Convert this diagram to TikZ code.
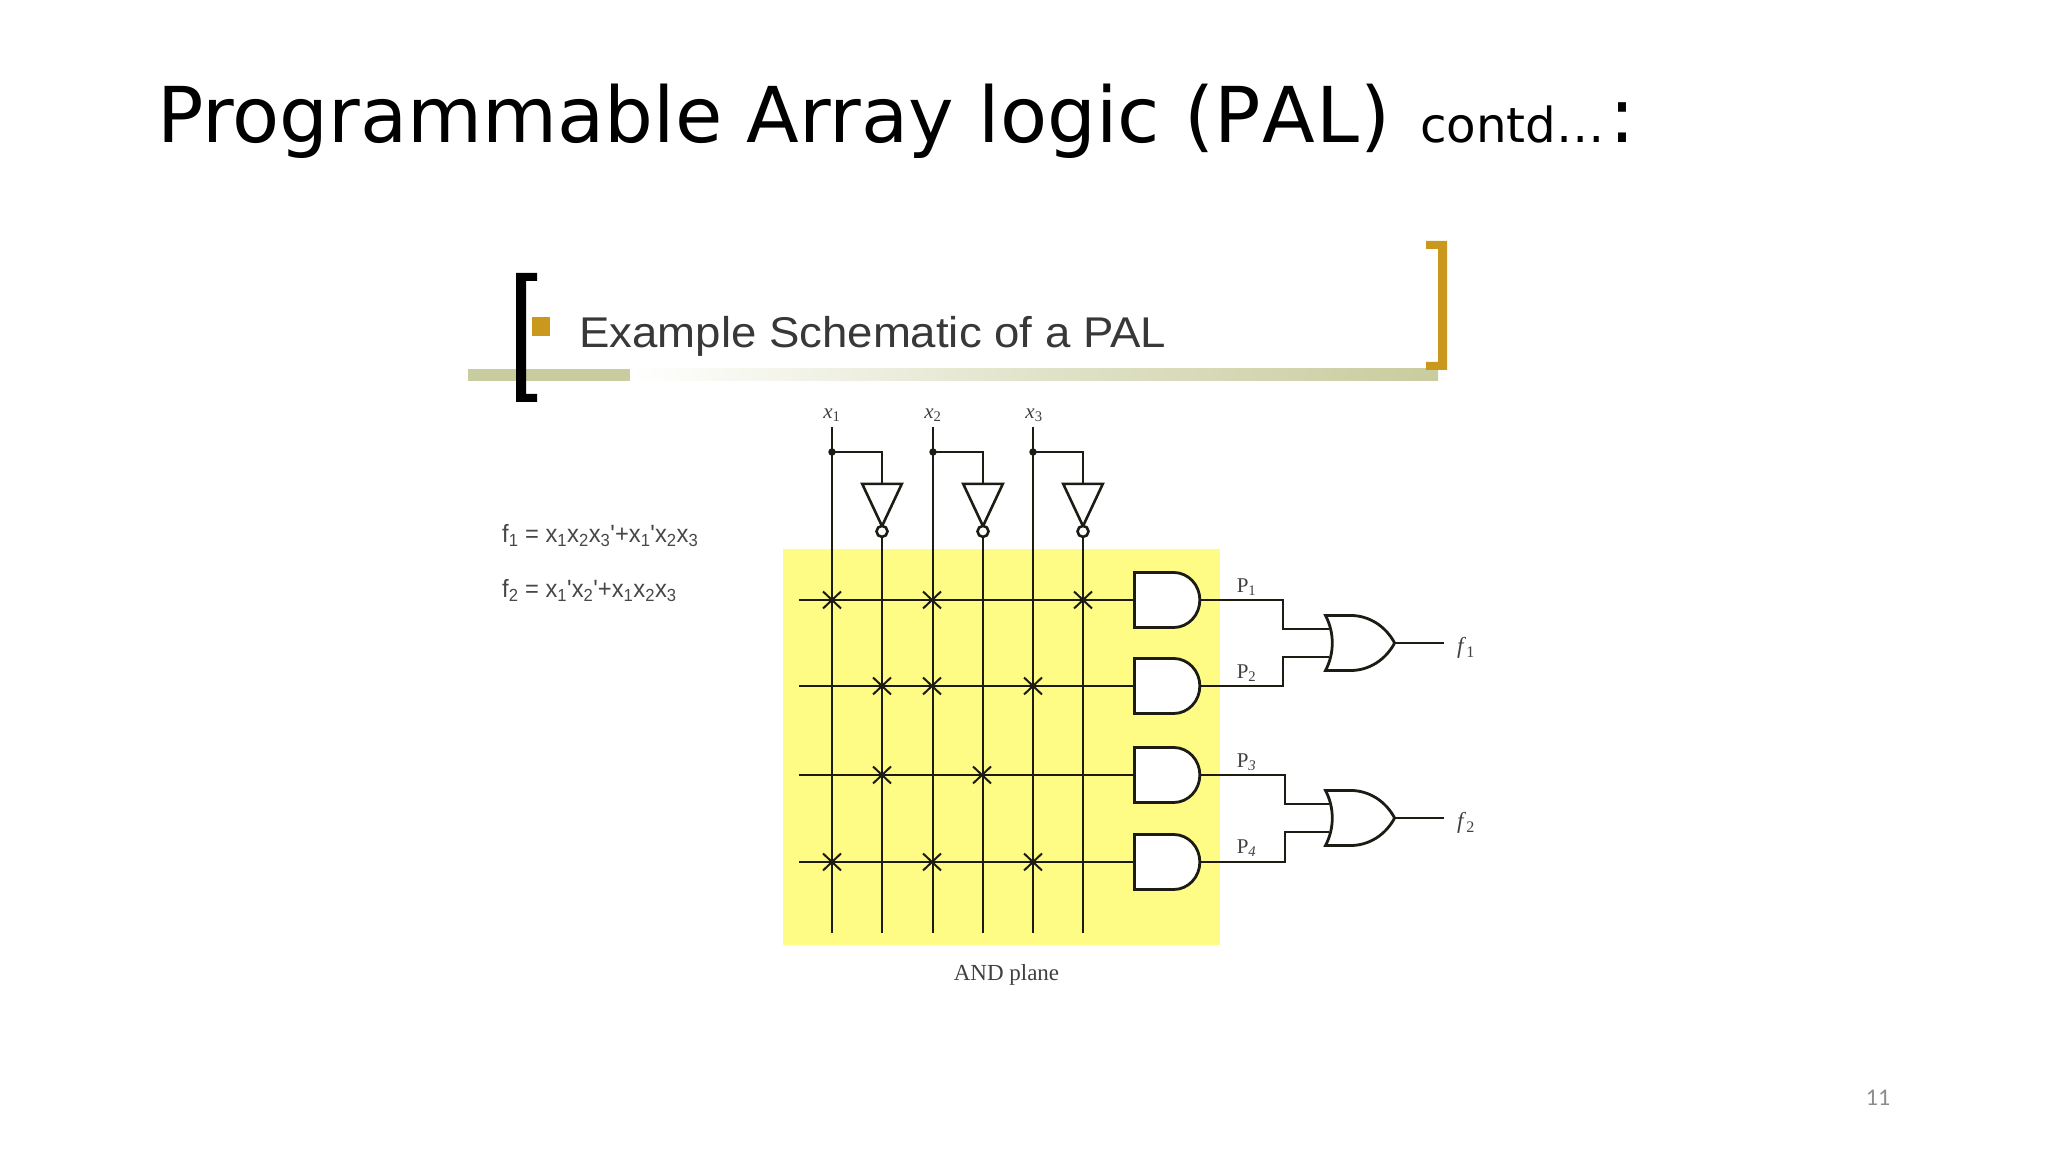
\documentclass[tikz,border=0pt]{standalone}
\usepackage{fontspec}
\usetikzlibrary{shapes.gates.logic.US,shapes.misc}
\setmainfont{Liberation Serif}
\newfontfamily\titlefont{DejaVu Sans}
\newfontfamily\arialfont[FakeStretch=1.06]{Liberation Sans}
\newfontfamily\eqfont[FakeStretch=.95]{Liberation Sans}
\newfontfamily\pagefont{Carlito}
\definecolor{planeyellow}{HTML}{FEFC85}
\definecolor{barolive}{HTML}{C9CC9E}
\definecolor{bulletgold}{HTML}{C9981C}
\definecolor{wirecolor}{HTML}{1C1C14}
\begin{document}
\begin{tikzpicture}[>=latex,line join=miter,
  wire/.style={wirecolor,line width=2bp},
  andgate/.style={and gate US,draw=wirecolor,fill=white,line width=2.8bp,logic gate inputs=nn,inner sep=0pt,minimum height=55bp,minimum width=67bp,xscale=.95,transform shape},
  orgate/.style={or gate US,draw=wirecolor,fill=white,line width=2.8bp,logic gate inputs=nnn,logic gate input sep=13bp,inner sep=0pt,minimum height=55bp,minimum width=70bp,xscale=.92,transform shape},
  notgate/.style={not gate US,draw=wirecolor,fill=white,line width=2.6bp,rotate=-90,inner sep=0pt,logic gate inverted radius=5.5bp,minimum height=34bp,minimum width=31bp},
  xmark/.style={cross out,draw=wirecolor,line width=2bp,inner sep=0pt,minimum width=16bp,minimum height=15bp},
  joint/.style={circle,fill=wirecolor,inner sep=0pt,minimum size=7.5bp},
  serifsmall/.style={text=black!75,font=\fontsize{21bp}{24bp}\selectfont,inner sep=0pt},
  formula/.style={text=black!72,font=\eqfont\fontsize{25bp}{28bp}\selectfont,inner sep=0pt,anchor=base west},
]
\useasboundingbox (0bp,0bp) rectangle (2048bp,1152bp);
%% slide heading
\node (title) at (157.5bp,1009.0bp) [anchor=base west,inner sep=0pt,font=\titlefont\fontsize{77bp}{90bp}\selectfont] {Programmable Array logic (P\kern1.4bp A\kern1.4bp L\kern1.4bp)\kern5bp{} {\fontsize{48.3bp}{60bp}\selectfont contd…}\kern5bp:};
\node (pagenum) at (1878.0bp,54.0bp) [inner sep=0pt,text=black!45,font=\pagefont\fontsize{24bp}{28bp}\selectfont] {11};
%% pasted picture header
\fill [barolive] (468.0bp,771.0bp) rectangle (630.0bp,783.0bp);
\shade [left color=white,right color=barolive,middle color=barolive!55] (630.0bp,771.0bp) rectangle (1438.0bp,783.0bp);
\fill [black] (516.0bp,879.0bp) -- (537.0bp,879.0bp) -- (537.0bp,871.0bp) -- (526.0bp,871.0bp) -- (526.0bp,758.0bp) -- (537.0bp,758.0bp) -- (537.0bp,750.0bp) -- (516.0bp,750.0bp) -- cycle;
\fill [bulletgold] (1447.0bp,911.0bp) -- (1426.0bp,911.0bp) -- (1426.0bp,903.0bp) -- (1438.0bp,903.0bp) -- (1438.0bp,790.0bp) -- (1426.0bp,790.0bp) -- (1426.0bp,782.0bp) -- (1447.0bp,782.0bp) -- cycle;
\fill [bulletgold] (532.0bp,816.0bp) rectangle (550.0bp,835.0bp);
\node (heading) at (579.0bp,804.0bp) [anchor=base west,inner sep=0pt,text=black!78,font=\arialfont\fontsize{43bp}{50bp}\selectfont] {Example Schematic of a PAL};
\node (eq_1) at (502.0bp,609.0bp) [formula] {f\textsubscript{1} = x\textsubscript{1}x\textsubscript{2}x\textsubscript{3}'+x\textsubscript{1}'x\textsubscript{2}x\textsubscript{3}};
\node (eq_2) at (502.0bp,554.0bp) [formula] {f\textsubscript{2} = x\textsubscript{1}'x\textsubscript{2}'+x\textsubscript{1}x\textsubscript{2}x\textsubscript{3}};
%% array
\node (plane) at (1001.5bp,405.0bp) [fill=planeyellow,inner sep=0pt,minimum width=437bp,minimum height=396bp] {};
\node (planelabel) at (1006.5bp,177.0bp) [serifsmall,font=\fontsize{23bp}{26bp}\selectfont] {AND plane};
\node (x_1) at (832.0bp,737.0bp) [serifsmall] {\textit{x}\textsubscript{1}};
\node (x_2) at (933.0bp,737.0bp) [serifsmall] {\textit{x}\textsubscript{2}};
\node (x_3) at (1034.0bp,737.0bp) [serifsmall] {\textit{x}\textsubscript{3}};
\coordinate (top_1) at (832.0bp,725.0bp);
\coordinate (top_2) at (933.0bp,725.0bp);
\coordinate (top_3) at (1033.0bp,725.0bp);
\node (dot_1) at (832.0bp,700.0bp) [joint] {};
\node (dot_2) at (933.0bp,700.0bp) [joint] {};
\node (dot_3) at (1033.0bp,700.0bp) [joint] {};
\coordinate (low_1) at (832.0bp,219.0bp);
\coordinate (low_2) at (882.0bp,219.0bp);
\coordinate (low_3) at (933.0bp,219.0bp);
\coordinate (low_4) at (983.0bp,219.0bp);
\coordinate (low_5) at (1033.0bp,219.0bp);
\coordinate (low_6) at (1083.0bp,219.0bp);
\node (not_1) at (882.0bp,654.0bp) [notgate] {};
\node (not_2) at (983.0bp,654.0bp) [notgate] {};
\node (not_3) at (1083.0bp,654.0bp) [notgate] {};
\coordinate (row_1) at (799.0bp,552.0bp);
\coordinate (row_2) at (799.0bp,466.0bp);
\coordinate (row_3) at (799.0bp,377.0bp);
\coordinate (row_4) at (799.0bp,290.0bp);
\node (and_1) at (1165.0bp,552.0bp) [andgate] {};
\node (and_2) at (1165.0bp,466.0bp) [andgate] {};
\node (and_3) at (1165.0bp,377.0bp) [andgate] {};
\node (and_4) at (1165.0bp,290.0bp) [andgate] {};
\node (or_1) at (1355.0bp,509.0bp) [orgate] {};
\node (or_2) at (1355.0bp,334.0bp) [orgate] {};
\coordinate (knee_1) at (1283.0bp,535.0bp);
\coordinate (knee_2) at (1283.0bp,480.0bp);
\coordinate (knee_3) at (1285.0bp,360.0bp);
\coordinate (knee_4) at (1285.0bp,305.0bp);
\coordinate (out_1) at (1444.0bp,509.0bp);
\coordinate (out_2) at (1444.0bp,334.0bp);
%% wires
\draw [wire] (top_1) -- (low_1);
\draw [wire] (top_2) -- (low_3);
\draw [wire] (top_3) -- (low_5);
\draw [wire] (dot_1.center) -| (not_1.input);
\draw [wire] (dot_2.center) -| (not_2.input);
\draw [wire] (dot_3.center) -| (not_3.input);
\draw [wire] (not_1.output) -- (low_2);
\draw [wire] (not_2.output) -- (low_4);
\draw [wire] (not_3.output) -- (low_6);
\draw [wire] (row_1) -- (and_1.west);
\draw [wire] (row_2) -- (and_2.west);
\draw [wire] (row_3) -- (and_3.west);
\draw [wire] (row_4) -- (and_4.west);
\draw [wire] (and_1.output) -| (knee_1) |- (or_1.input 1);
\draw [wire] (and_2.output) -| (knee_2) |- (or_1.input 3);
\draw [wire] (and_3.output) -| (knee_3) |- (or_2.input 1);
\draw [wire] (and_4.output) -| (knee_4) |- (or_2.input 3);
\draw [wire] (or_1.output) -- (out_1);
\draw [wire] (or_2.output) -- (out_2);
%% fuses
\node (fuse_11) at (832.0bp,552.0bp) [xmark] {};
\node (fuse_13) at (932.0bp,552.0bp) [xmark] {};
\node (fuse_16) at (1083.0bp,552.0bp) [xmark] {};
\node (fuse_22) at (882.0bp,466.0bp) [xmark] {};
\node (fuse_23) at (932.0bp,466.0bp) [xmark] {};
\node (fuse_25) at (1033.0bp,466.0bp) [xmark] {};
\node (fuse_32) at (882.0bp,377.0bp) [xmark] {};
\node (fuse_34) at (982.0bp,377.0bp) [xmark] {};
\node (fuse_41) at (832.0bp,290.0bp) [xmark] {};
\node (fuse_43) at (932.0bp,290.0bp) [xmark] {};
\node (fuse_45) at (1033.0bp,290.0bp) [xmark] {};
%% labels
\node (p_1) at (1246.5bp,565.0bp) [serifsmall] {P\textsubscript{1}};
\node (p_2) at (1246.5bp,479.0bp) [serifsmall] {P\textsubscript{2}};
\node (p_3) at (1246.5bp,390.0bp) [serifsmall] {P\textsubscript{\textit{3}}};
\node (p_4) at (1246.5bp,304.0bp) [serifsmall] {P\textsubscript{\textit{4}}};
\node (f_1) at (1466.0bp,504.0bp) [serifsmall,font=\fontsize{23bp}{26bp}\selectfont] {\textit{f}\textsubscript{1}};
\node (f_2) at (1466.0bp,329.0bp) [serifsmall,font=\fontsize{23bp}{26bp}\selectfont] {\textit{f}\textsubscript{2}};
%
\end{tikzpicture}
\end{document}
